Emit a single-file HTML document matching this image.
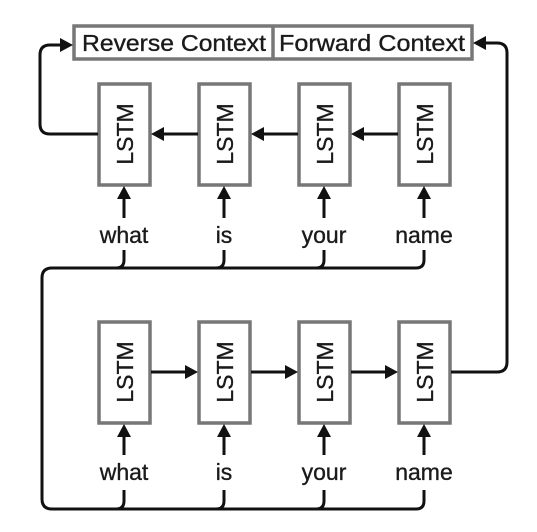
<!DOCTYPE html>
<html><head><style>
html,body{margin:0;padding:0;background:#fff;}
svg{display:block;}
text{font-family:"Liberation Sans",sans-serif;fill:#1a1a1a;stroke:#1a1a1a;stroke-width:0.35;}
</style></head><body>
<svg width="537" height="532" viewBox="0 0 537 532" xmlns="http://www.w3.org/2000/svg">
<g fill="none" stroke="#111" stroke-width="3">
<rect x="74" y="26" width="398" height="33" stroke="#777" stroke-width="3.5" fill="#fff"/>
<line x1="273" y1="26" x2="273" y2="59" stroke="#777" stroke-width="3.5"/>
<g stroke="#777" stroke-width="3.5">
<rect x="99" y="84" width="51" height="101"/><rect x="199" y="84" width="51" height="101"/>
<rect x="299" y="84" width="51" height="101"/><rect x="399" y="84" width="51" height="101"/>
<rect x="99" y="322" width="51" height="101"/><rect x="199" y="322" width="51" height="101"/>
<rect x="299" y="322" width="51" height="101"/><rect x="399" y="322" width="51" height="101"/>
</g>
<line x1="398" y1="134" x2="362" y2="134"/><line x1="298" y1="134" x2="262" y2="134"/><line x1="198" y1="134" x2="162" y2="134"/>
<line x1="151" y1="372" x2="187" y2="372"/><line x1="251" y1="372" x2="287" y2="372"/><line x1="351" y1="372" x2="387" y2="372"/>
<path d="M98 134 H50 Q40 134 40 124 V55 Q40 45 50 45 H62"/>
<path d="M451 372 H497 Q507 372 507 362 V53 Q507 43 497 43 H485"/>
<line x1="124" y1="218" x2="124" y2="197"/><line x1="224" y1="218" x2="224" y2="197"/><line x1="324" y1="218" x2="324" y2="197"/><line x1="424" y1="218" x2="424" y2="197"/>
<line x1="124" y1="455" x2="124" y2="435"/><line x1="224" y1="455" x2="224" y2="435"/><line x1="324" y1="455" x2="324" y2="435"/><line x1="424" y1="455" x2="424" y2="435"/>
<path d="M124 250 V260 Q124 268 116 268 H52 Q42 268 42 278 V499 Q42 509 52 509 H416 Q424 509 424 501 V490"/>
<path d="M224 250 V260 Q224 268 216 268 H116"/>
<path d="M324 250 V260 Q324 268 316 268 H216"/>
<path d="M424 250 V260 Q424 268 416 268 H316"/>
<path d="M124 490 V501 Q124 509 116 509"/>
<path d="M224 490 V501 Q224 509 216 509"/>
<path d="M324 490 V501 Q324 509 316 509"/>
</g>
<g fill="#111">
<polygon points="151,134 164,127 164,141"/><polygon points="251,134 264,127 264,141"/><polygon points="351,134 364,127 364,141"/>
<polygon points="198,372 185,365 185,379"/><polygon points="298,372 285,365 285,379"/><polygon points="398,372 385,365 385,379"/>
<polygon points="73,45 60,38 60,52"/><polygon points="473,43 486,36 486,50"/>
<polygon points="124,186 117,199 131,199"/><polygon points="224,186 217,199 231,199"/><polygon points="324,186 317,199 331,199"/><polygon points="424,186 417,199 431,199"/>
<polygon points="124,424 117,437 131,437"/><polygon points="224,424 217,437 231,437"/><polygon points="324,424 317,437 331,437"/><polygon points="424,424 417,437 431,437"/>
</g>
<g font-size="23">
<text x="174" y="51" text-anchor="middle" textLength="184" lengthAdjust="spacingAndGlyphs">Reverse Context</text>
<text x="372" y="51" text-anchor="middle" textLength="186" lengthAdjust="spacingAndGlyphs">Forward Context</text>
<g text-anchor="middle">
<text x="124" y="243">what</text><text x="224" y="243">is</text><text x="324" y="243">your</text><text x="424" y="243">name</text>
<text x="124" y="480">what</text><text x="224" y="480">is</text><text x="324" y="480">your</text><text x="424" y="480">name</text>
</g>
<g text-anchor="middle" font-size="23" stroke-width="0.8">
<text transform="translate(133,134) rotate(-90)">LSTM</text>
<text transform="translate(233,134) rotate(-90)">LSTM</text>
<text transform="translate(333,134) rotate(-90)">LSTM</text>
<text transform="translate(433,134) rotate(-90)">LSTM</text>
<text transform="translate(133,372) rotate(-90)">LSTM</text>
<text transform="translate(233,372) rotate(-90)">LSTM</text>
<text transform="translate(333,372) rotate(-90)">LSTM</text>
<text transform="translate(433,372) rotate(-90)">LSTM</text>
</g>
</g>
</svg>
</body></html>
